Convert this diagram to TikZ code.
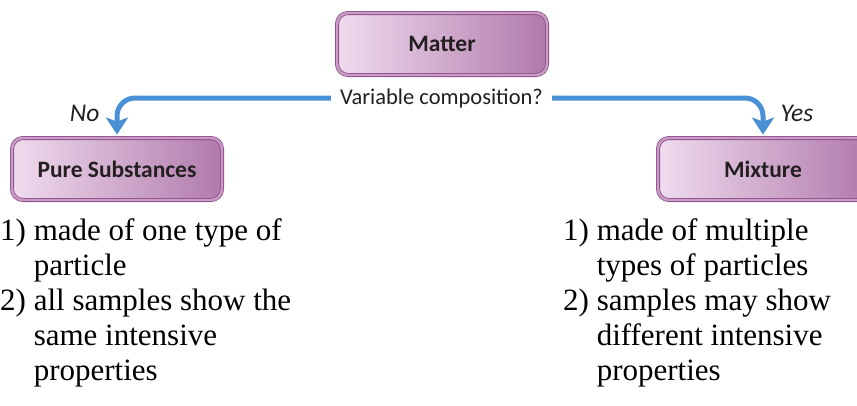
\documentclass[tikz,border=0pt]{standalone}
\usepackage{fontspec}
\setmainfont{Liberation Serif}
\newfontfamily\labelfont{Carlito}
\usepackage{tikz}
\usetikzlibrary{arrows.meta}
\definecolor{boxlight}{HTML}{F0DCEE}
\definecolor{boxdark}{HTML}{B07AAC}
\definecolor{boxrim}{HTML}{C99BC5}
\definecolor{boxedge}{HTML}{8E4E8A}
\definecolor{flowblue}{HTML}{4A90D4}
\definecolor{inkgray}{HTML}{231F20}

\begin{document}
\begin{tikzpicture}[x=1pt,y=-1pt,
  classnode/.style={draw=boxedge,double=boxrim,double distance=2.4pt,line width=0.8pt,
    rounded corners=11pt,left color=boxlight,right color=boxdark,
    minimum width=210pt,minimum height=62pt,text=inkgray,
    font=\labelfont\bfseries\fontsize{23.5}{26}\selectfont},
  ]
  \tikzset{%
    flow/.style={
      draw=flowblue,
      line width=5pt,
      rounded corners=18pt,
      -{Stealth[length=17pt,width=22pt,inset=4pt]},
      shorten >=3pt,
    },
    answer/.style={font=\labelfont\itshape\fontsize{25.5}{28}\selectfont,text=inkgray},
    facts/.style={align=left,inner sep=0pt,anchor=base west,font=\fontsize{31}{35}\selectfont},
  }
  \useasboundingbox (0,0) rectangle (857,405);
  %Nodes
  \node[classnode](matter) at (442,44){Matter};
  \node[classnode](pure) at (117,169){Pure Substances};
  \node[classnode](mix) at (763,169){Mixture};
  \node[font=\labelfont\fontsize{22.5}{26}\selectfont,text=inkgray,inner xsep=9pt,inner ysep=0pt](ask) at (441.5,98){Variable composition?};
  \node[answer,anchor=base east](no) at (103,121){No};
  \node[answer,anchor=base west](yes) at (777,121){Yes};
  % base of a multi-line node = last line
  \node[facts](purefacts) at (0,380){1) made of one type of\\\hphantom{1)~}particle\\2) all samples show the\\\hphantom{2)~}same intensive\\\hphantom{2)~}properties};
  \node[facts](mixfacts) at (563,380){1) made of multiple\\\hphantom{1)~}types of particles\\2) samples may show\\\hphantom{2)~}different intensive\\\hphantom{2)~}properties};
  %Lines
  \draw[flow] (ask.west) -| (pure.north);
  \draw[flow] (ask.east) -| (mix.north);
\end{tikzpicture}
\end{document}
